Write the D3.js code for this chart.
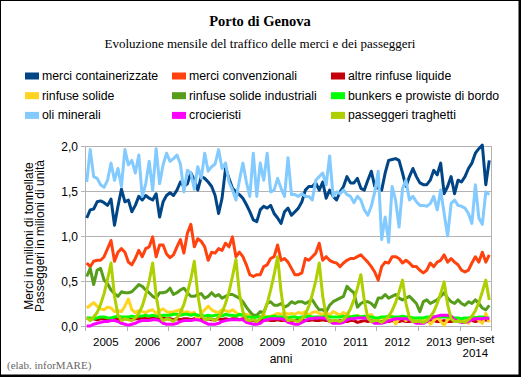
<!DOCTYPE html>
<html>
<head>
<meta charset="utf-8">
<script src="https://cdn.jsdelivr.net/npm/d3@7/dist/d3.min.js"></script>
<style>
  body { margin: 0; background: #fff; }
  svg { display: block; }
</style>
</head>
<body>
<svg id="chart"></svg>
<script>
// Porto di Genova - monthly traffic 2005 .. Sep 2014
const yearLabels = ["2005", "2006", "2007", "2008", "2009", "2010", "2011", "2012", "2013", ["gen-set", "2014"]];
const yTicks = [0, 0.5, 1.0, 1.5, 2.0];

const container = [
  1.20,1.29,1.30,1.38,1.39,1.37,1.34,1.41,1.12,1.33,1.52,1.38,
  1.40,1.27,1.34,1.44,1.40,1.45,1.42,1.40,1.47,1.21,1.38,1.45,
  1.48,1.45,1.51,1.60,1.55,1.58,1.70,1.62,1.51,1.66,1.64,1.60,
  1.55,1.45,1.25,1.42,1.75,1.64,1.53,1.49,1.46,1.42,1.35,1.27,
  1.18,1.16,1.29,1.33,1.31,1.34,1.25,1.20,1.14,1.27,1.31,1.23,
  1.27,1.31,1.38,1.51,1.55,1.55,1.59,1.51,1.60,1.42,1.51,1.44,
  1.40,1.49,1.55,1.66,1.59,1.59,1.64,1.53,1.51,1.62,1.72,1.55,
  1.53,1.51,1.70,1.84,1.85,1.86,1.84,1.70,1.55,1.66,1.75,1.66,
  1.59,1.57,1.57,1.62,1.73,1.68,1.81,1.47,1.55,1.66,1.47,1.62,
  1.60,1.66,1.75,1.81,1.92,1.97,2.01,1.57,1.84
];
const convenzionali = [
  0.70,0.66,0.72,0.73,0.73,0.77,0.86,0.95,0.72,0.82,0.86,0.82,
  0.71,0.68,0.75,0.84,0.77,0.86,0.88,0.99,0.77,0.90,0.90,0.80,
  0.76,0.79,0.88,0.96,0.81,1.03,1.13,0.88,0.97,0.94,0.88,0.73,
  0.82,0.81,0.86,0.84,0.92,0.88,0.99,0.77,0.82,0.77,0.68,0.57,
  0.55,0.57,0.57,0.66,0.68,0.75,0.77,0.90,0.73,0.75,0.71,0.64,
  0.57,0.57,0.59,0.75,0.73,0.77,0.81,0.92,0.73,0.77,0.73,0.71,
  0.70,0.66,0.70,0.73,0.75,0.75,0.77,0.79,0.75,0.71,0.66,0.60,
  0.51,0.66,0.71,0.70,0.77,0.77,0.75,0.70,0.73,0.70,0.66,0.66,
  0.62,0.59,0.62,0.70,0.66,0.71,0.73,0.79,0.71,0.75,0.71,0.68,
  0.62,0.60,0.62,0.70,0.77,0.71,0.82,0.71,0.79
];
const liquide = [
  0.09,0.08,0.08,0.07,0.08,0.08,0.07,0.08,0.08,0.07,0.08,0.08,
  0.08,0.07,0.08,0.08,0.09,0.08,0.08,0.09,0.08,0.08,0.09,0.08,
  0.08,0.07,0.08,0.07,0.08,0.08,0.07,0.08,0.07,0.08,0.07,0.08,
  0.07,0.07,0.08,0.07,0.08,0.07,0.08,0.08,0.07,0.08,0.07,0.06,
  0.06,0.05,0.06,0.06,0.07,0.06,0.06,0.07,0.06,0.06,0.07,0.06,
  0.06,0.06,0.07,0.06,0.06,0.07,0.06,0.06,0.07,0.06,0.06,0.05,
  0.05,0.06,0.06,0.05,0.06,0.06,0.04,0.05,0.06,0.05,0.06,0.05,
  0.05,0.05,0.06,0.05,0.06,0.05,0.05,0.06,0.05,0.05,0.06,0.05,
  0.05,0.06,0.05,0.05,0.06,0.05,0.05,0.06,0.05,0.05,0.06,0.06,
  0.06,0.05,0.06,0.06,0.05,0.06,0.06,0.07,0.06
];
const solide = [
  0.20,0.23,0.26,0.22,0.19,0.18,0.21,0.20,0.16,0.17,0.16,0.22,
  0.30,0.18,0.15,0.17,0.16,0.15,0.17,0.18,0.14,0.17,0.19,0.16,
  0.15,0.16,0.17,0.18,0.15,0.16,0.14,0.15,0.07,0.14,0.18,0.22,
  0.18,0.16,0.15,0.18,0.17,0.16,0.18,0.15,0.12,0.13,0.13,0.12,
  0.12,0.11,0.10,0.12,0.10,0.11,0.12,0.14,0.13,0.15,0.13,0.14,
  0.13,0.15,0.14,0.16,0.12,0.15,0.16,0.14,0.13,0.15,0.12,0.16,
  0.14,0.12,0.15,0.13,0.10,0.08,0.12,0.10,0.09,0.11,0.13,0.08,
  0.07,0.10,0.05,0.09,0.11,0.02,0.08,0.10,0.06,0.09,0.07,0.05,
  0.08,0.06,0.09,0.02,0.06,0.10,0.05,0.01,0.07,0.09,0.06,0.08,
  0.05,0.07,0.03,0.08,0.10,0.06,0.03,0.14,0.04
];
const industriali = [
  0.55,0.64,0.46,0.62,0.64,0.51,0.47,0.40,0.36,0.33,0.38,0.37,
  0.37,0.38,0.42,0.46,0.44,0.40,0.37,0.33,0.31,0.37,0.37,0.38,
  0.42,0.35,0.37,0.40,0.42,0.37,0.33,0.33,0.35,0.36,0.31,0.33,
  0.37,0.33,0.35,0.31,0.33,0.35,0.35,0.33,0.31,0.27,0.21,0.16,
  0.12,0.12,0.16,0.15,0.25,0.27,0.23,0.23,0.25,0.21,0.23,0.27,
  0.25,0.27,0.27,0.25,0.27,0.29,0.23,0.18,0.18,0.16,0.23,0.27,
  0.29,0.31,0.33,0.44,0.40,0.37,0.21,0.25,0.27,0.27,0.25,0.21,
  0.31,0.31,0.35,0.31,0.33,0.35,0.31,0.29,0.31,0.33,0.29,0.25,
  0.16,0.27,0.29,0.25,0.27,0.29,0.33,0.37,0.31,0.27,0.25,0.29,
  0.25,0.23,0.27,0.25,0.29,0.25,0.20,0.18,0.23
];
const bunkers = [
  0.09,0.09,0.08,0.09,0.10,0.10,0.09,0.09,0.10,0.11,0.10,0.10,
  0.10,0.11,0.10,0.11,0.11,0.12,0.11,0.12,0.11,0.11,0.12,0.12,
  0.12,0.13,0.13,0.12,0.13,0.13,0.12,0.13,0.12,0.12,0.11,0.12,
  0.11,0.12,0.12,0.11,0.13,0.12,0.12,0.11,0.13,0.12,0.10,0.10,
  0.09,0.10,0.10,0.09,0.10,0.10,0.11,0.10,0.10,0.10,0.09,0.10,
  0.10,0.09,0.10,0.10,0.11,0.10,0.10,0.10,0.10,0.11,0.10,0.10,
  0.10,0.10,0.11,0.10,0.10,0.11,0.11,0.10,0.11,0.10,0.10,0.09,
  0.09,0.10,0.10,0.11,0.10,0.10,0.10,0.11,0.10,0.10,0.09,0.09,
  0.09,0.09,0.10,0.10,0.10,0.11,0.10,0.10,0.10,0.10,0.09,0.09,
  0.08,0.09,0.09,0.10,0.09,0.10,0.10,0.09,0.09
];
const oliMinerali = [
  1.60,1.96,1.66,1.64,1.57,1.54,1.62,1.81,1.62,1.75,1.55,1.96,
  1.79,1.84,1.70,1.90,1.44,1.58,1.83,1.51,1.97,1.58,1.79,1.92,
  1.83,1.86,1.90,1.80,1.49,1.73,1.70,1.52,1.77,1.64,1.92,1.72,
  1.77,1.80,1.96,1.75,1.81,1.60,1.51,1.40,1.62,1.81,1.60,1.44,
  1.92,1.44,1.81,1.62,1.92,1.49,1.51,1.64,1.53,1.44,1.87,1.46,
  1.46,1.44,1.47,1.44,1.44,1.40,1.62,1.66,1.70,1.57,1.89,1.44,
  1.49,1.47,1.51,1.46,1.44,1.37,1.44,1.40,1.29,1.23,1.33,1.49,
  1.72,0.96,1.21,0.93,1.55,1.40,1.10,1.53,1.62,1.40,1.44,1.38,
  1.34,1.34,1.33,1.36,1.44,1.29,1.51,1.25,1.00,1.36,1.40,1.34,
  1.33,1.31,1.25,1.14,1.57,1.20,1.13,1.49,1.46
];
const crocieristi = [
  0.00,0.00,0.02,0.03,0.04,0.05,0.05,0.06,0.06,0.05,0.03,0.02,
  0.01,0.02,0.03,0.05,0.06,0.06,0.06,0.07,0.07,0.06,0.03,0.02,
  0.02,0.02,0.03,0.05,0.06,0.06,0.06,0.07,0.07,0.06,0.04,0.02,
  0.02,0.02,0.03,0.05,0.06,0.07,0.07,0.07,0.07,0.07,0.04,0.03,
  0.02,0.02,0.03,0.06,0.07,0.08,0.08,0.08,0.08,0.07,0.04,0.03,
  0.02,0.02,0.04,0.06,0.08,0.08,0.09,0.09,0.09,0.08,0.05,0.03,
  0.03,0.03,0.04,0.07,0.08,0.08,0.09,0.09,0.09,0.08,0.05,0.03,
  0.03,0.03,0.04,0.06,0.07,0.08,0.08,0.08,0.08,0.07,0.05,0.03,
  0.03,0.03,0.05,0.08,0.10,0.11,0.12,0.12,0.12,0.11,0.07,0.05,
  0.04,0.04,0.05,0.07,0.08,0.08,0.08,0.09,0.08
];
const traghetti = [
  0.09,0.06,0.10,0.15,0.24,0.36,0.52,0.70,0.33,0.12,0.06,0.08,
  0.07,0.06,0.09,0.14,0.22,0.35,0.50,0.70,0.34,0.11,0.06,0.08,
  0.07,0.05,0.09,0.15,0.24,0.37,0.52,0.72,0.35,0.12,0.07,0.08,
  0.08,0.06,0.10,0.15,0.25,0.38,0.55,0.74,0.36,0.16,0.07,0.06,
  0.07,0.05,0.08,0.14,0.25,0.40,0.57,0.77,0.38,0.12,0.06,0.07,
  0.06,0.05,0.08,0.13,0.22,0.35,0.50,0.70,0.33,0.11,0.05,0.06,
  0.06,0.05,0.07,0.12,0.19,0.29,0.42,0.57,0.28,0.09,0.05,0.06,
  0.06,0.04,0.07,0.11,0.17,0.26,0.38,0.51,0.25,0.09,0.05,0.05,
  0.05,0.04,0.06,0.10,0.16,0.25,0.36,0.49,0.24,0.08,0.05,0.05,
  0.05,0.04,0.07,0.11,0.17,0.26,0.38,0.51,0.29
];

const series = [
  { name: "merci containerizzate", color: "#004586", values: container },
  { name: "merci convenzionali", color: "#ff420e", values: convenzionali },
  { name: "altre rinfuse liquide", color: "#c5000b", values: liquide },
  { name: "rinfuse solide", color: "#ffd320", values: solide },
  { name: "rinfuse solide industriali", color: "#579d1c", values: industriali },
  { name: "bunkers e prowiste di bordo", color: "#00ff00", values: bunkers },
  { name: "oli minerali", color: "#83caff", values: oliMinerali },
  { name: "crocieristi", color: "#ff00ff", values: crocieristi },
  { name: "passeggeri traghetti", color: "#aecf00", values: traghetti }
];

// month categories (index only)
const months = d3.range(container.length);

const W = 521, H = 377;
const plot = { left: 85, right: 491, top: 146, bottom: 326 };

const svg = d3.select("#chart").attr("width", W).attr("height", H);

// outer frame
svg.append("rect").attr("x", 0).attr("y", 0).attr("width", W).attr("height", H).attr("fill", "#fff");
svg.append("rect")
  .attr("x", 0.5).attr("y", 0.5).attr("width", 518.5).attr("height", 374.5)
  .attr("fill", "none").attr("stroke", "#000").attr("stroke-width", 1);
svg.append("path").attr("d", "M520,0V377M0,376H521").attr("stroke", "#000").attr("stroke-width", 2).attr("fill", "none");

// Titles
svg.append("text")
  .attr("x", 260).attr("y", 26)
  .attr("text-anchor", "middle")
  .style("font-family", "'Liberation Serif', 'Times New Roman', serif")
  .style("font-size", "14.5px").style("font-weight", "bold")
  .text("Porto di Genova");
svg.append("text")
  .attr("x", 260).attr("y", 48)
  .attr("text-anchor", "middle")
  .style("font-family", "'Liberation Serif', 'Times New Roman', serif")
  .style("font-size", "13px")
  .text("Evoluzione mensile del traffico delle merci e dei passeggeri");

// Legend (3 columns, row-wise)
const legCols = [25, 172, 331];
const legRows = [72.5, 92.2, 111.9];
const legend = svg.append("g");
series.forEach((s, i) => {
  const gx = legCols[i % 3], gy = legRows[Math.floor(i / 3)];
  legend.append("rect").attr("x", gx).attr("y", gy).attr("width", 14).attr("height", 7).attr("fill", s.color);
  legend.append("text")
    .attr("x", gx + 17).attr("y", gy + 7.5)
    .style("font-family", "'Liberation Sans', Arial, sans-serif")
    .style("font-size", "12.3px")
    .text(s.name);
});

// Scales
const x = d3.scaleBand().domain(months).range([plot.left, plot.right]).padding(0);
const y = d3.scaleLinear().domain([0, 2]).range([plot.bottom, plot.top]);
const cx = i => x(i) + x.bandwidth() / 2;

// Grid
const grid = svg.append("g");
grid.selectAll("line.h").data(yTicks).enter().append("line")
  .attr("x1", plot.left - 4).attr("x2", plot.right)
  .attr("y1", d => Math.round(y(d)) + 0.5).attr("y2", d => Math.round(y(d)) + 0.5)
  .attr("stroke", "#b3b3b3").attr("stroke-width", 1);
grid.append("line")
  .attr("x1", plot.left + 0.5).attr("x2", plot.left + 0.5)
  .attr("y1", plot.top).attr("y2", plot.bottom + 5)
  .attr("stroke", "#b3b3b3");
grid.append("line")
  .attr("x1", plot.right + 0.5).attr("x2", plot.right + 0.5)
  .attr("y1", plot.top).attr("y2", plot.bottom + 5)
  .attr("stroke", "#b3b3b3");

// year boundary ticks on x axis
const yearStarts = d3.range(0, months.length, 12);
grid.selectAll("line.t").data(yearStarts).enter().append("line")
  .attr("x1", d => Math.round(x(d)) + 0.5).attr("x2", d => Math.round(x(d)) + 0.5)
  .attr("y1", plot.bottom).attr("y2", plot.bottom + 5)
  .attr("stroke", "#b3b3b3");

// Y tick labels
const fmt = d => d3.format(".1f")(d).replace(".", ",");
svg.append("g").selectAll("text").data(yTicks).enter().append("text")
  .attr("x", 78).attr("y", d => y(d) + 4.5)
  .attr("text-anchor", "end")
  .style("font-family", "'Liberation Sans', Arial, sans-serif")
  .style("font-size", "12px")
  .text(fmt);

// X labels, centred on each year span
const xl = svg.append("g")
  .style("font-family", "'Liberation Sans', Arial, sans-serif")
  .style("font-size", "11.5px");
yearLabels.forEach((lab, k) => {
  const i0 = k * 12, i1 = Math.min(i0 + 12, months.length);
  const mid = (x(i0) + x(i1 - 1) + x.bandwidth()) / 2;
  if (Array.isArray(lab)) {
    const t = xl.append("text").attr("text-anchor", "middle");
    t.append("tspan").attr("x", mid).attr("y", 343).text(lab[0]);
    t.append("tspan").attr("x", mid).attr("y", 357).text(lab[1]);
  } else {
    xl.append("text").attr("x", mid).attr("y", 346).attr("text-anchor", "middle").text(lab);
  }
});

// Axis titles
svg.append("text")
  .attr("x", 281).attr("y", 363)
  .attr("text-anchor", "middle")
  .style("font-family", "'Liberation Sans', Arial, sans-serif")
  .style("font-size", "12px")
  .text("anni");
const yt = svg.append("text")
  .attr("transform", "translate(0,236) rotate(-90)")
  .attr("text-anchor", "middle")
  .style("font-family", "'Liberation Sans', Arial, sans-serif")
  .style("font-size", "12px");
yt.append("tspan").attr("x", 0).attr("y", 32.5).text("Merci in milioni di tonnellate");
yt.append("tspan").attr("x", 0).attr("y", 44).text("Passeggeri in milioni di unità");

// Lines
const line = d3.line().x((d, i) => cx(i)).y(d => y(d));
svg.append("g").selectAll("path").data(series).enter().append("path")
  .attr("d", s => line(s.values))
  .attr("fill", "none")
  .attr("stroke", s => s.color)
  .attr("stroke-width", 3)
  .attr("stroke-linejoin", "round");

// Source note
svg.append("text")
  .attr("x", 7).attr("y", 369)
  .style("font-family", "'Liberation Serif', 'Times New Roman', serif")
  .style("font-size", "11px")
  .attr("fill", "#666")
  .text("(elab. inforMARE)");
</script>
</body>
</html>
